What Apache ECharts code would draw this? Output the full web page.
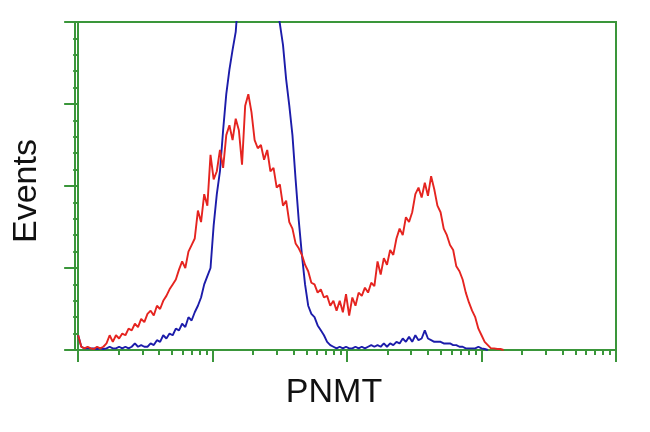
<!DOCTYPE html>
<html>
<head>
<meta charset="utf-8">
<script src="https://cdn.jsdelivr.net/npm/echarts@6/dist/echarts.min.js"></script>
<style>
html,body{margin:0;padding:0;background:#fff;}
#chart{width:650px;height:432px;}
</style>
</head>
<body>
<div id="chart"></div>
<script>
// Channel positions (256 channels per decade, 4 decades)
var channelStep = 6;
// Red histogram (PNMT transfected) counts per channel bin
var redCounts = [9,2,1,2,1,0.6,2,1,2,4,9,5,9,7,10,9,13,12,16,14,19,17,22,24,21,27,25,30,33,37,40,43,49,54,50,60,64,68,85,78,95,88,119,104,109,122,111,131,137,128,141,134,113,149,156,145,128,123,125,116,122,109,111,99,101,88,91,78,74,65,62,58,52,48,41,40,35,37,32,33,27,30,24,30,23,34,21,32,27,35,33,38,35,41,39,54,46,56,52,61,58,68,74,70,81,78,84,95,99,93,102,94,106,98,88,84,74,70,64,61,51,48,43,35,29,24,20,13,9,5,3,1,1,0.6,0.6,0];
// Blue histogram (control) counts per channel bin
var blueCounts = [9,2,1,1,1,1,0.6,1,0.6,1,2,1,1,2,1,2,1,2,4,2,3,2,2,4,3,6,5,9,7,10,9,13,12,16,14,20,18,23,27,32,40,45,50,76,95,109,134,156,171,183,194,220,250,270,285,295,300,300,295,285,270,250,230,212,199,186,165,149,131,104,79,58,40,27,22,20,15,12,9,5,3,2,1,2,1,2,1,1,2,1,2,1,2,3,2,3,2,4,2,4,3,5,4,7,5,8,5,9,6,7,12,7,6,5,5,5,4,4,4,3,3,2,2,1,1,1,1,2,1,0.6,0];
var decadeTicks = [0,256,512,768,1024];
var xLabel = 'PNMT';
var yLabel = 'Events';

function pairs(arr){
  return arr.map(function(v,i){return [i*channelStep, v];});
}
var minorTicks = [];
for (var d=0; d<4; d++){
  for (var k=2; k<=9; k++){
    minorTicks.push(256*(d+Math.log10(k)));
  }
}
var green = '#3a963a';
var chart = echarts.init(document.getElementById('chart'), null, {renderer:'canvas'});
chart.setOption({
  animation:false,
  backgroundColor:'#ffffff',
  grid:{left:75,right:34,top:22,bottom:82,show:true,borderColor:green,borderWidth:2,backgroundColor:'transparent'},
  xAxis:[{
    type:'value',min:-6,max:1024,position:'bottom',
    axisLine:{show:true,lineStyle:{color:green,width:2}},
    axisTick:{show:true,customValues:decadeTicks,length:12,inside:false,lineStyle:{color:green,width:2}},
    axisLabel:{show:false},
    splitLine:{show:false}
  },{
    type:'value',min:-6,max:1024,position:'bottom',offset:0,
    axisLine:{show:false},
    axisTick:{show:true,customValues:minorTicks,length:5,inside:false,lineStyle:{color:green,width:2}},
    axisLabel:{show:false},
    splitLine:{show:false}
  }],
  yAxis:{
    type:'value',min:0,max:200,interval:50,
    axisLine:{show:true,lineStyle:{color:green,width:2}},
    axisTick:{show:true,length:14,lineStyle:{color:green,width:2}},
    minorTick:{show:true,splitNumber:5,length:5,lineStyle:{color:green,width:2}},
    axisLabel:{show:false},
    splitLine:{show:false},
    minorSplitLine:{show:false}
  },
  graphic:[
    {type:'text',style:{text:xLabel,x:0,y:0,fill:'#111',font:'34px "Liberation Sans", Arial, sans-serif',textAlign:'center',textVerticalAlign:'middle'},position:[334,393]},
    {type:'text',style:{text:yLabel,x:0,y:0,fill:'#111',font:'34px "Liberation Sans", Arial, sans-serif',textAlign:'center',textVerticalAlign:'middle'},position:[27,191],rotation:Math.PI/2}
  ],
  series:[
    {type:'line',data:pairs(blueCounts),xAxisIndex:0,showSymbol:false,clip:true,lineStyle:{color:'#1c1caa',width:1.9},z:3},
    {type:'line',data:pairs(redCounts),xAxisIndex:0,showSymbol:false,clip:true,lineStyle:{color:'#e52420',width:1.9},z:4}
  ]
});
</script>
</body>
</html>
